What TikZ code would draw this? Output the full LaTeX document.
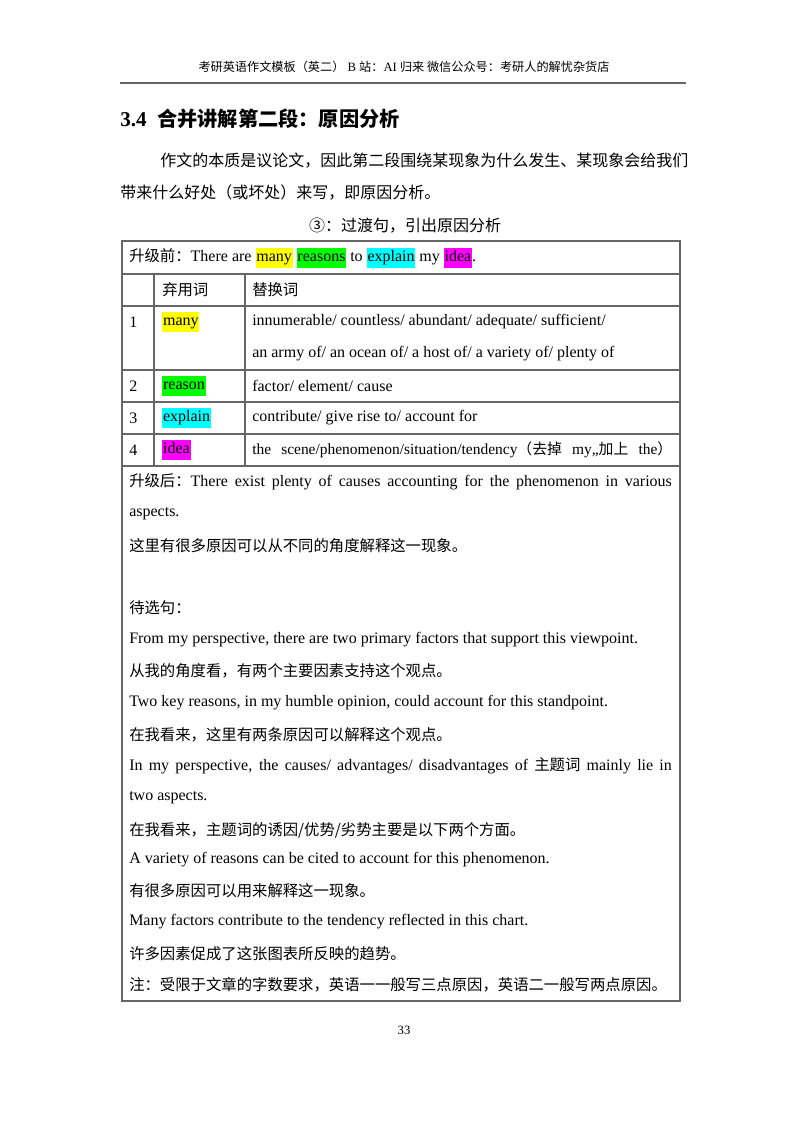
\documentclass[tikz,border=0pt]{standalone}
\usepackage{fontspec}
\setmainfont{Liberation Serif}
\newfontfamily\cjkf[Scale=0.96]{Noto Sans CJK SC}
\newcommand\zh[1]{{\cjkf #1}}
\definecolor{hy}{HTML}{FFFF00}
\definecolor{hg}{HTML}{00FF00}
\definecolor{hc}{HTML}{00FFFF}
\definecolor{hm}{HTML}{FF00FF}
\newcommand\hl[2]{{\setlength{\fboxsep}{0.6pt}\colorbox{#1}{\strut #2}}}
\begin{document}
\begin{tikzpicture}[x=0.75pt,y=-0.75pt,
  tx/.style={anchor=west,inner sep=0pt,font=\fontsize{12}{14}\selectfont},
  body/.style={anchor=west,inner sep=0pt,font=\fontsize{12.5}{14}\selectfont},
  rule/.style={draw=black!60,line width=0.8pt}]
\useasboundingbox (0,0) rectangle (800,1132);
\node[inner sep=0pt,font=\fontsize{9.5}{11}\selectfont] (hd) at (404,67) {\zh{考研英语作文模板（英二）} B \zh{站：}AI \zh{归来\ 微信公众号：考研人的解忧杂货店}};
\coordinate (hl1) at (120,83); \coordinate (hl2) at (686,83);
\draw[black!60,line width=0.8pt] (hl1) -- (hl2);
\node[anchor=west,inner sep=0pt,font=\fontsize{15.8}{18}\bfseries\selectfont] (ti) at (120,119) {3.4\ \ {\cjkf\bfseries 合并讲解第二段：原因分析}};
\node[body] (p1) at (160,161) {\makebox[396pt][s]{\zh{作文的本质是议论文，因此第二段围绕某现象为什么发生、某现象会给我们}}};
\node[body] (p2) at (120,193) {\zh{带来什么好处（或坏处）来写，即原因分析。}};
\node[inner sep=0pt,font=\fontsize{12.5}{14}\selectfont] (cap) at (405,226) {\zh{③：过渡句，引出原因分析}};
% table
\draw[rule] (122,241) rectangle (680,1001);
\foreach \y in {274,306,370,402,434,466} \draw[rule] (122,\y) -- (680,\y);
\draw[rule] (154,274) -- (154,466);
\draw[rule] (245,274) -- (245,466);
\node[tx] (r0) at (129,258) {\zh{升级前：}There are \hl{hy}{many} \hl{hg}{reasons} to \hl{hc}{explain} my \hl{hm}{idea}.};
\node[tx] (h2) at (162,290) {\zh{弃用词}};
\node[tx] (h3) at (252,290) {\zh{替换词}};
\node[tx] (n1) at (129,322) {1};
\node[tx] (w1) at (162,322) {\hl{hy}{many}};
\node[tx] (s1a) at (252,322) {innumerable/ countless/ abundant/ adequate/ sufficient/};
\node[tx] (s1b) at (252,354) {an army of/ an ocean of/ a host of/ a variety of/ plenty of};
\node[tx] (n2) at (129,386) {2};
\node[tx] (w2) at (162,386) {\hl{hg}{reason}};
\node[tx] (s2) at (252,386) {factor/ element/ cause};
\node[tx] (n3) at (129,418) {3};
\node[tx] (w3) at (162,418) {\hl{hc}{explain}};
\node[tx] (s3) at (252,418) {contribute/ give rise to/ account for};
\node[tx] (n4) at (129,450) {4};
\node[tx] (w4) at (162,450) {\hl{hm}{idea}};
\node[tx,font=\fontsize{11.6}{13}\selectfont] (s4) at (252,450) {\makebox[315pt][s]{the scene/phenomenon/situation/tendency\zh{（去掉} my,,\zh{加上} the\zh{）}}};
\node[tx] (b1) at (129,482) {\makebox[407pt][s]{\zh{升级后：}There exist plenty of causes accounting for the phenomenon in various}};
\node[tx] (b2) at (129,514) {aspects.};
\node[tx] (b3) at (129,546) {\zh{这里有很多原因可以从不同的角度解释这一现象。}};
\node[tx] (b4) at (129,608) {\zh{待选句：}};
\node[tx] (b5) at (129,640) {From my perspective, there are two primary factors that support this viewpoint.};
\node[tx] (b6) at (129,671) {\zh{从我的角度看，有两个主要因素支持这个观点。}};
\node[tx] (b7) at (129,703) {Two key reasons, in my humble opinion, could account for this standpoint.};
\node[tx] (b8) at (129,735) {\zh{在我看来，这里有两条原因可以解释这个观点。}};
\node[tx] (b9) at (129,766) {\makebox[407pt][s]{In my perspective, the causes/ advantages/ disadvantages of \zh{主题词} mainly lie in}};
\node[tx] (b10) at (129,798) {two aspects.};
\node[tx] (b11) at (129,830) {\zh{在我看来，主题词的诱因/优势/劣势主要是以下两个方面。}};
\node[tx] (b12) at (129,860) {A variety of reasons can be cited to account for this phenomenon.};
\node[tx] (b13) at (129,891) {\zh{有很多原因可以用来解释这一现象。}};
\node[tx] (b14) at (129,922) {Many factors contribute to the tendency reflected in this chart.};
\node[tx] (b15) at (129,954) {\zh{许多因素促成了这张图表所反映的趋势。}};
\node[tx] (b16) at (129,985) {\makebox[407pt][s]{\zh{注：受限于文章的字数要求，英语一一般写三点原因，英语二一般写两点原因。}}};
\node[inner sep=0pt,font=\fontsize{9.5}{11}\selectfont] (pg) at (404,1030) {33};
\end{tikzpicture}
\end{document}
